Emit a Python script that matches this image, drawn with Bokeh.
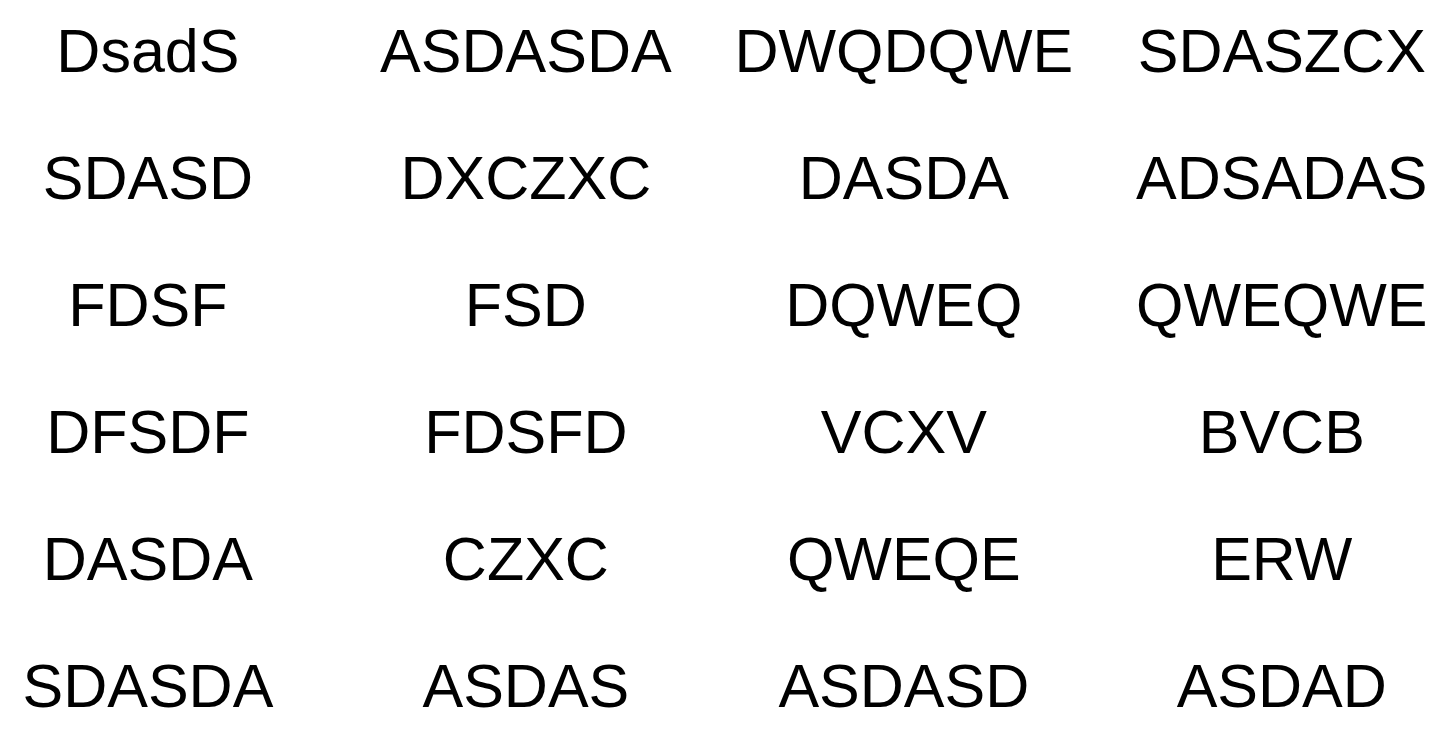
from bokeh.plotting import figure
from bokeh.models import ColumnDataSource, Range1d
from bokeh.core.properties import value
from bokeh.embed import file_html
from bokeh.resources import INLINE

# words, row by row, four per row
words = [
    "DsadS", "ASDASDA", "DWQDQWE", "SDASZCX",
    "SDASD", "DXCZXC", "DASDA", "ADSADAS",
    "FDSF", "FSD", "DQWEQ", "QWEQWE",
    "DFSDF", "FDSFD", "VCXV", "BVCB",
    "DASDA", "CZXC", "QWEQE", "ERW",
    "SDASDA", "ASDAS", "ASDASD", "ASDAD",
]
n_cols = 4
cols = [i % n_cols for i in range(len(words))]
rows = [i // n_cols for i in range(len(words))]

src = ColumnDataSource(data=dict(x=cols, y=rows, text=words))

p = figure(width=1440, height=720, output_backend="svg", toolbar_location=None,
           x_range=Range1d(-0.39, 3.42), y_range=Range1d(5.27, -0.40),
           min_border=0)
p.axis.visible = False
p.grid.visible = False
p.outline_line_color = None

p.text(x="x", y="y", text="text", source=src,
       text_font=value("Liberation Sans"), text_font_size="61px",
       text_align="center", text_baseline="middle", text_color="#000000")

open("out.html", "w").write(file_html(p, INLINE))
